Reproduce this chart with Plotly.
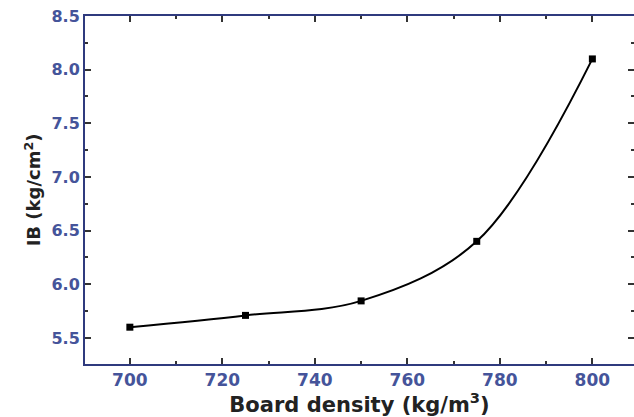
import plotly.graph_objects as go

density = [700, 725, 750, 775, 800]
ib = [5.6, 5.71, 5.845, 6.4, 8.1]

x_ticks = [700, 720, 740, 760, 780, 800]
y_ticks = [5.5, 6.0, 6.5, 7.0, 7.5, 8.0, 8.5]

axis_col = "#2f3a7e"
label_col = "#45549a"
font_fam = "DejaVu Sans, Verdana, Arial"

fig = go.Figure()
fig.add_trace(go.Scatter(
    x=density, y=ib, mode="lines+markers",
    line=dict(color="black", width=2, shape="spline", smoothing=1.0),
    marker=dict(symbol="square", size=7, color="black"),
    showlegend=False,
))

common = dict(
    showgrid=False, zeroline=False, showline=True, linewidth=2, linecolor=axis_col,
    ticks="inside", tickcolor="#333", ticklen=6, tickwidth=1.5,
    mirror="ticks", automargin=False,
    minor=dict(ticks="inside", ticklen=3, tickcolor="#333", tickwidth=1.5),
)

fig.update_xaxes(
    range=[690.3, 809], tickvals=x_ticks, ticktext=[str(v) for v in x_ticks],
    minor_dtick=10, minor_tick0=700,
    tickfont=dict(family=font_fam, size=17, color=label_col, weight="bold"),
    title=dict(text="Board density (kg/m<sup>3</sup>)", standoff=2,
               font=dict(family=font_fam, size=21, color="#222", weight="bold")),
    **common,
)
fig.update_yaxes(
    range=[5.257, 8.5], tickvals=y_ticks, ticktext=[f"{v:.1f}" for v in y_ticks],
    minor_dtick=0.25, minor_tick0=5.5,
    tickfont=dict(family=font_fam, size=16, color=label_col, weight="bold"),
    title=dict(text="IB (kg/cm<sup>2</sup>)", standoff=6,
               font=dict(family=font_fam, size=18, color="#222", weight="bold")),
    **common,
)

fig.update_layout(
    width=634, height=417,
    margin=dict(l=85, r=0, t=16, b=53),
    plot_bgcolor="white", paper_bgcolor="white",
)

fig.write_html(
    "out.html",
    config={"displayModeBar": False},
    post_script=("document.body.style.margin='0';"
                 "document.body.style.overflow='hidden';"
                 "Plotly.relayout('{plot_id}', {width:634, height:417});"),
)
